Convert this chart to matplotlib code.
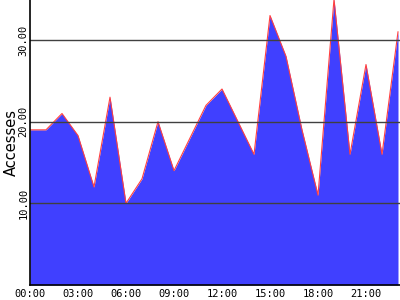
import matplotlib
matplotlib.use("Agg")
import matplotlib.pyplot as plt

# hourly access counts
hours = list(range(24))
accesses = [19, 19, 21, 18.3, 12, 23, 10, 13, 20, 14, 18, 22,
            24, 20, 16, 33, 28, 19, 11, 35, 16, 27, 16, 31]
x_ticks = [0, 3, 6, 9, 12, 15, 18, 21]
x_labels = ["00:00", "03:00", "06:00", "09:00", "12:00", "15:00", "18:00", "21:00"]
y_ticks = [10, 20, 30]
y_labels = ["10.00", "20.00", "30.00"]

fig = plt.figure(figsize=(4, 3), dpi=100)
ax = fig.add_axes([30 / 400, 15 / 300, 370 / 400, 285 / 300])

ax.fill_between(hours, accesses, 0, color="#4040ff", linewidth=0)
ax.plot(hours, accesses, color="#ff4040", linewidth=0.8)

for v in y_ticks:
    ax.axhline(v, color="#404040", linewidth=1, zorder=3)

ax.set_xlim(0, 23.125)
ax.set_ylim(0, 34.9)

ax.set_xticks(x_ticks)
ax.set_xticklabels(x_labels, family="DejaVu Sans Mono", fontsize=7.5)
ax.set_yticks(y_ticks)
ax.set_yticklabels(y_labels, family="DejaVu Sans Mono", fontsize=7.5,
                   rotation=90, va="center")
ax.tick_params(axis="x", length=0, pad=3)
ax.tick_params(axis="y", length=0, pad=1)

ax.set_ylabel("Accesses", fontsize=10.5, labelpad=0)

for s in ["top", "right"]:
    ax.spines[s].set_visible(False)
for s in ["left", "bottom"]:
    ax.spines[s].set_linewidth(1.2)
    ax.spines[s].set_zorder(4)

fig.savefig("out.png", dpi=100)
